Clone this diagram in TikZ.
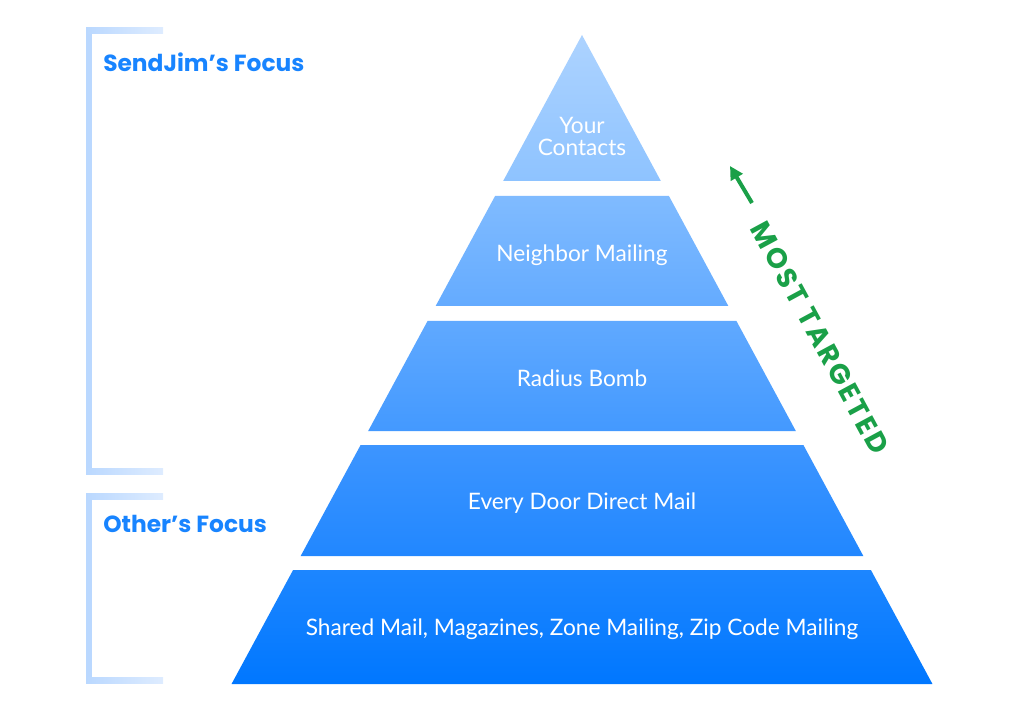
\documentclass[tikz,border=0pt]{standalone}
\usepackage{fontspec}
\setmainfont{Lato}
\newfontfamily\headfont{Poppins}
\newfontfamily\targetfont{Poppins}[LetterSpace=9]
\usetikzlibrary{positioning,arrows.meta}

\definecolor{focusBlue}{RGB}{24,132,255}
\definecolor{bracketBlue}{RGB}{186,216,255}
\definecolor{bracketLight}{RGB}{222,236,255}
\definecolor{targetGreen}{RGB}{26,160,72}

\begin{document}
\begin{tikzpicture}[x=0.75pt,y=-0.75pt,
        bandText/.style={
            text = white, align = center, inner sep = 0pt,
            font = \fontsize{17}{16.5}\selectfont
        },
        focus/.style={
            anchor = west, inner sep = 0pt, text = focusBlue,
            font = \headfont\bfseries\fontsize{17.5}{21}\selectfont
        },
        bracket/.style={
            draw = bracketBlue, line width = 4.5pt
        },
    ]
    \useasboundingbox (0,0) rectangle (1024,723);

    % pyramid bands: top, bottom, top colour, bottom colour
    \foreach \yt/\yb/\ct/\cb in {
        35/181/ADD3FF/8EC3FF,
        196/306/80BBFF/64ABFF,
        321/431/60A9FF/4399FF,
        445/556/3D95FF/2187FF,
        570/684/1D86FF/0077FF}{
        \definecolor{topC}{HTML}{\ct}
        \definecolor{botC}{HTML}{\cb}
        \shade[top color=topC, bottom color=botC]
            ({582-0.54*(\yt-35)},\yt) -- ({582+0.54*(\yt-35)},\yt)
            -- ({582+0.54*(\yb-35)},\yb) -- ({582-0.54*(\yb-35)},\yb) -- cycle;
    }

    \node (yourContacts) [bandText] at (582,136) {Your\\Contacts};
    \node (neighborMailing) [bandText] at (582,255) {Neighbor Mailing};
    \node (radiusBomb) [bandText] at (582,378) {Radius Bomb};
    \node (everyDoor) [bandText] at (582,503) {Every Door Direct Mail};
    \node (sharedMail) [bandText] at (582,629) {Shared Mail, Magazines, Zone Mailing, Zip Code Mailing};

    % brackets on the left
    \draw[bracket] (89,31) -- (89,471);
    \shade[left color=bracketBlue, right color=bracketLight] (86,28) rectangle (163,34);
    \shade[left color=bracketBlue, right color=bracketLight] (86,468) rectangle (163,474);
    \draw[bracket] (89,496) -- (89,680);
    \shade[left color=bracketBlue, right color=bracketLight] (86,493) rectangle (163,499);
    \shade[left color=bracketBlue, right color=bracketLight] (86,677) rectangle (163,683);

    \node (sendJimFocus) [focus] at (103,62) {SendJim’s Focus};
    \node (othersFocus) [focus] at (103,524) {Other’s Focus};

    % most targeted, along the right slope
    \node (mostTargeted) [rotate=-61.6, inner sep=0pt, text=targetGreen,
        font=\targetfont\bfseries\fontsize{21}{24}\selectfont] at (820,338) {MOST TARGETED};
    \coordinate (arrowTail) at (752,203);
    \coordinate (arrowTip) at (730,166);
    \draw[-{Triangle[length=10pt,width=10pt]}, line width=3pt, targetGreen] (arrowTail) -- (arrowTip);

\end{tikzpicture}
\end{document}
